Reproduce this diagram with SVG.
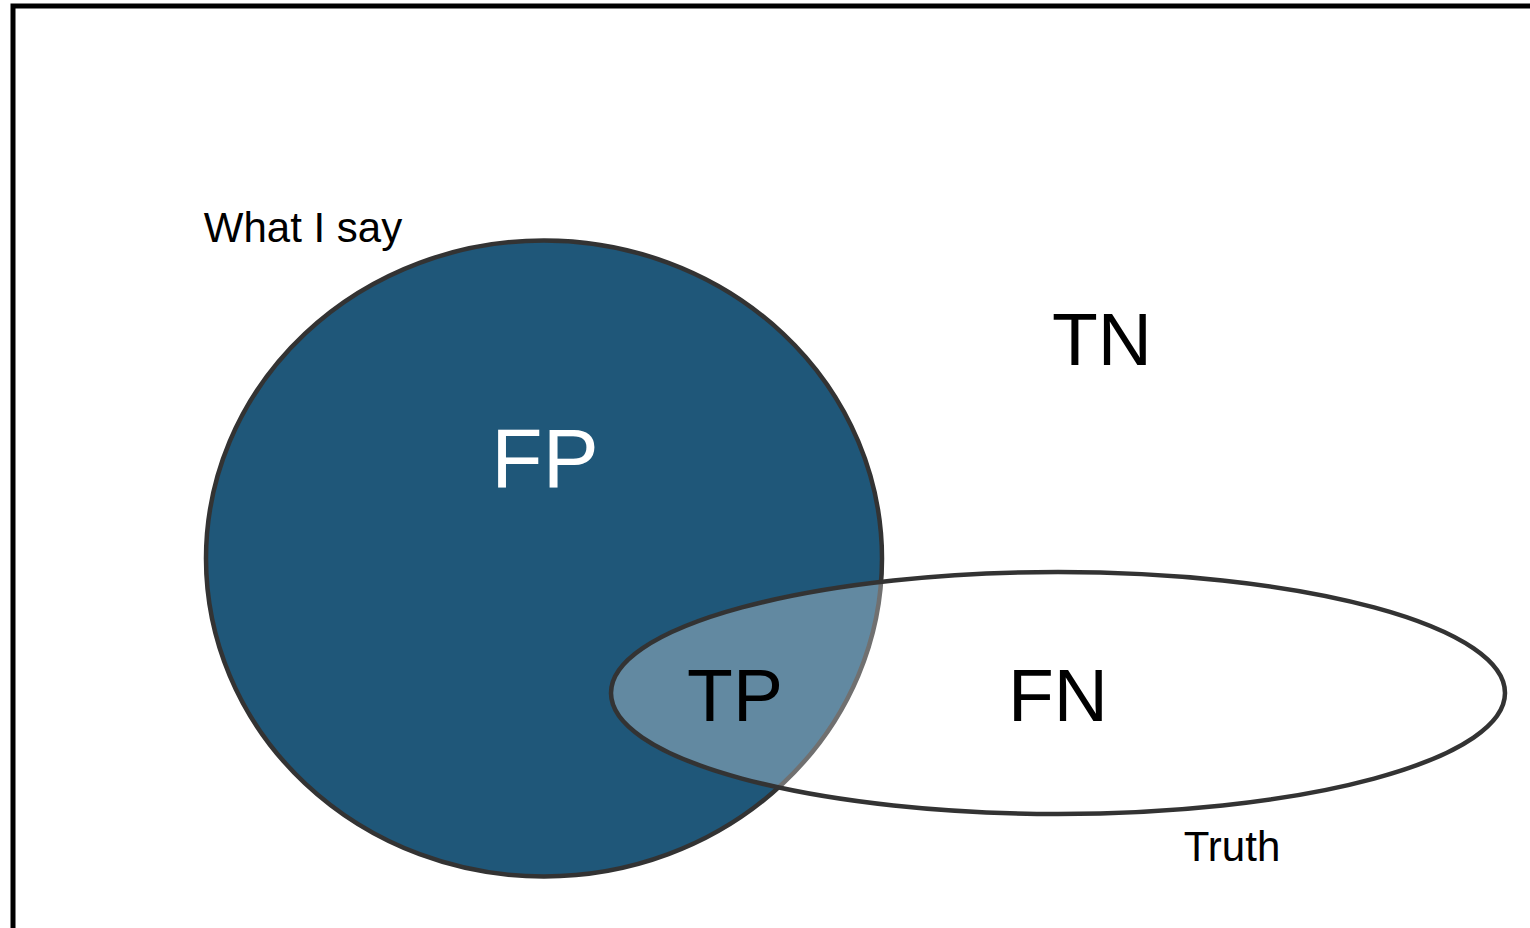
<svg xmlns="http://www.w3.org/2000/svg" width="1530" height="928" viewBox="0 0 1530 928">
<style>
text { font-family: "Liberation Sans", Arial, sans-serif; text-anchor: middle; }
.lbl { font-size: 42px; fill: #000; }
.big { font-size: 75px; fill: #000; }
</style>
<rect x="0" y="0" width="1530" height="928" fill="#ffffff"/>
<rect id="frame" x="13" y="6" width="1560" height="960" fill="none" stroke="#000" stroke-width="5"/>
<g id="say">
<ellipse cx="544" cy="558.5" rx="338" ry="318" fill="#1f5779" stroke="#333333" stroke-width="4.5"/>
<text class="big" x="545" y="487" style="fill:#ffffff;font-size:84px">FP</text>
<text class="lbl" x="303" y="242">What I say</text>
</g>
<g id="truth">
<ellipse cx="1058" cy="693" rx="447" ry="121" fill="#ffffff" fill-opacity="0.3" stroke="#333333" stroke-width="4.5"/>
<text class="big" x="1058" y="721">FN</text>
<text class="lbl" x="1232" y="861">Truth</text>
</g>
<g id="tp"><text class="big" x="735" y="721">TP</text></g>
<g id="tn"><text class="big" x="1102" y="365">TN</text></g>
<g id="connectors"></g>
</svg>
